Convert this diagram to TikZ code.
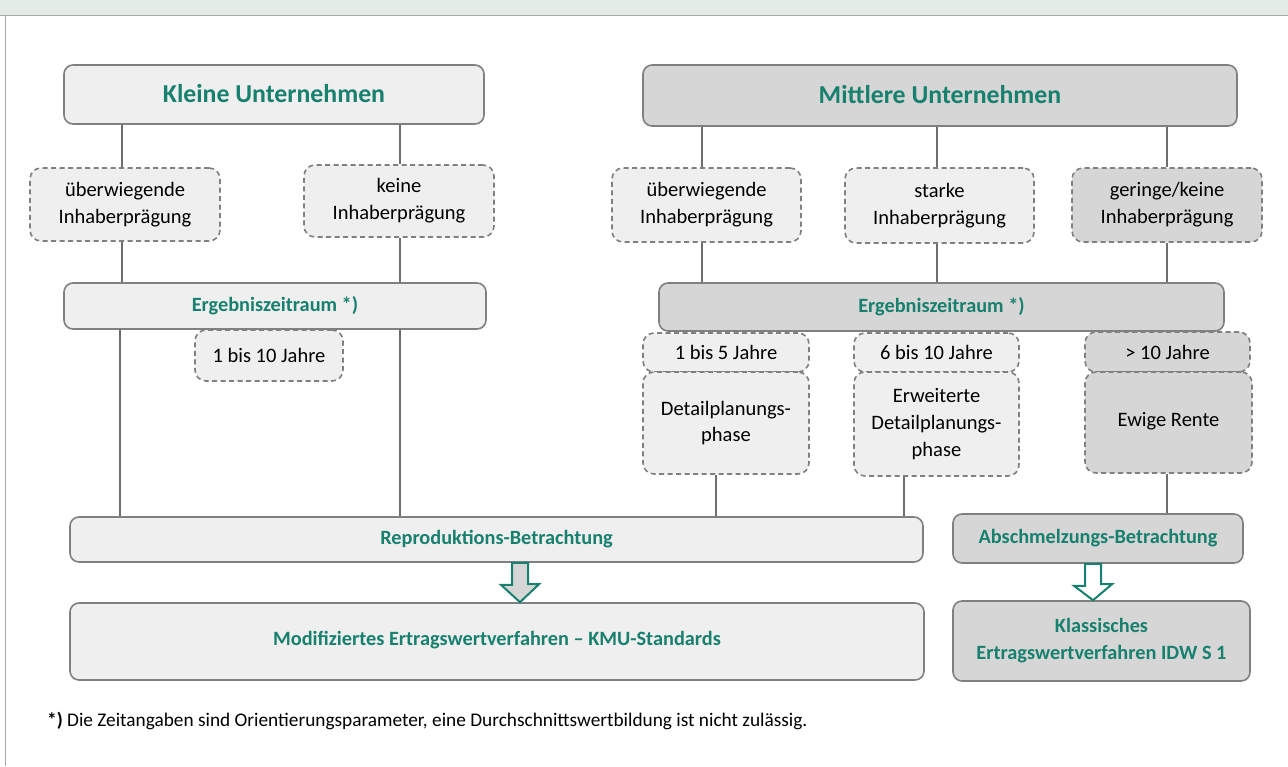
\documentclass[tikz,border=0pt]{standalone}
\usepackage{fontspec}
\setmainfont{Carlito}
\usetikzlibrary{calc}
\definecolor{teal1}{HTML}{17806E}
\definecolor{lfill}{HTML}{EFEFEF}
\definecolor{dfill}{HTML}{D6D6D6}
\definecolor{bgray}{HTML}{808080}
\definecolor{cgray}{HTML}{6E6E6E}
\definecolor{strip}{HTML}{E2EBE6}
\definecolor{frame}{HTML}{A8A8A8}
\begin{document}
\begin{tikzpicture}[x=1pt,y=-1pt,
 base/.style={inner sep=0pt, align=center, font=\fontsize{20.5}{27}\selectfont, text=black},
 sbox/.style={base, draw=bgray, line width=1.6pt, rounded corners=9pt},
 dbox/.style={base, draw=bgray, line width=1.6pt, dash pattern=on 5pt off 3.5pt, rounded corners=11pt},
 light/.style={fill=lfill}, dark/.style={fill=dfill},
 head/.style={text=teal1, font=\fontsize{25.8}{30}\selectfont\bfseries},
 sub/.style={text=teal1, font=\fontsize{20.3}{27}\selectfont\bfseries},
 conn/.style={draw=cgray, line width=2pt},
 barrow/.style={draw=teal1, line width=2pt, line join=miter},
]
\useasboundingbox (0,0) rectangle (1288,766);
\fill[strip] (0,0) rectangle (1288,15);
\draw[frame, line width=1pt] (0,15) -- (1288,15);
\draw[frame, line width=1pt] (5,15) -- (5,766);

% top boxes
\node[sbox, light, head, minimum width=420, minimum height=59] (K) at (274,94.5) {\raisebox{2.5pt}{Kleine Unternehmen}};
\node[sbox, dark, head, minimum width=594, minimum height=61] (M) at (940,95.5) {\raisebox{3pt}{Mittlere Unternehmen}};

% owner characteristics
\node[dbox, light, minimum width=190, minimum height=73] (K1) at (125,204.5) {überwiegende\\Inhaberprägung};
\node[dbox, light, minimum width=190, minimum height=72] (K2) at (399,201) {keine\\Inhaberprägung};
\node[dbox, light, minimum width=189, minimum height=74] (M1) at (706.5,205) {überwiegende\\Inhaberprägung};
\node[dbox, light, minimum width=189, minimum height=75] (M2) at (939.5,205.5) {starke\\Inhaberprägung};
\node[dbox, dark, minimum width=190, minimum height=74] (M3) at (1167,205) {geringe/keine\\Inhaberprägung};

% Ergebniszeitraum
\node[sbox, light, sub, minimum width=422, minimum height=46] (E1) at (275,306) {Ergebniszeitraum *)};
\node[sbox, dark, sub, minimum width=565, minimum height=48] (E2) at (941.5,307) {Ergebniszeitraum *)};

% periods
\node[dbox, light, minimum width=148, minimum height=51] (T1) at (269,355.5) {1 bis 10 Jahre};
\node[dbox, light, minimum width=166, minimum height=39] (P1t) at (726,352.5) {\raisebox{-2pt}{1 bis 5 Jahre}};
\node[dbox, light, minimum width=166, minimum height=102] (P1) at (726,423) {\raisebox{3pt}{\begin{tabular}{@{}c@{}}Detailplanungs-\\[-0.5pt]phase\end{tabular}}};
\node[dbox, light, minimum width=165, minimum height=39] (P2t) at (936.5,352.5) {\raisebox{-2pt}{6 bis 10 Jahre}};
\node[dbox, light, minimum width=165, minimum height=104] (P2) at (936.5,424) {Erweiterte\\Detailplanungs-\\phase};
\node[dbox, dark, minimum width=165, minimum height=40] (P3t) at (1167.5,352) {\raisebox{-1pt}{> 10 Jahre}};
\node[dbox, dark, minimum width=167, minimum height=101] (P3) at (1168.5,422.5) {\raisebox{7pt}{Ewige Rente}};

% Betrachtung
\node[sbox, light, sub, minimum width=853, minimum height=45] (R) at (496.5,539.5) {Reproduktions-Betrachtung};
\node[sbox, dark, sub, minimum width=290, minimum height=49] (A) at (1098,538.5) {Abschmelzungs-Betrachtung};

% Verfahren
\node[sbox, light, sub, minimum width=854, minimum height=77] (MO) at (497,641.5) {\raisebox{7pt}{Modifiziertes Ertragswertverfahren – KMU-Standards}};
\node[sbox, dark, sub, minimum width=297, minimum height=80] (KL) at (1101.5,641) {Klassisches\\Ertragswertverfahren IDW S 1};

% column coordinates
\coordinate (c1) at (122,0);
\coordinate (c2) at (400,0);
\coordinate (c3) at (702,0);
\coordinate (c4) at (937,0);
\coordinate (c5) at (1167,0);
\coordinate (d1) at (120,0);
\coordinate (d3) at (716,0);
\coordinate (d4) at (904,0);

% connectors
\draw[conn] (c1 |- K.south) -- (c1 |- K1.north);
\draw[conn] (c2 |- K.south) -- (c2 |- K2.north);
\draw[conn] (c1 |- K1.south) -- (c1 |- E1.north);
\draw[conn] (c2 |- K2.south) -- (c2 |- E1.north);
\draw[conn] (d1 |- E1.south) -- (d1 |- R.north);
\draw[conn] (c2 |- E1.south) -- (c2 |- R.north);

\draw[conn] (c3 |- M.south) -- (c3 |- M1.north);
\draw[conn] (c4 |- M.south) -- (c4 |- M2.north);
\draw[conn] (c5 |- M.south) -- (c5 |- M3.north);
\draw[conn] (c3 |- M1.south) -- (c3 |- E2.north);
\draw[conn] (c4 |- M2.south) -- (c4 |- E2.north);
\draw[conn] (c5 |- M3.south) -- (c5 |- E2.north);
\draw[conn] (d3 |- P1.south) -- (d3 |- R.north);
\draw[conn] (d4 |- P2.south) -- (d4 |- R.north);
\draw[conn] (c5 |- P3.south) -- (c5 |- A.north);

% block arrows
\coordinate (ar1) at (520,0);
\coordinate (ar2) at (1093,0);
\draw[barrow, fill=dfill] ($(ar1 |- R.south)+(-8,0)$) -- ++(0,22) -- ++(-11,0) -- (ar1 |- MO.north) -- ++(19,-18) -- ++(-11,0) -- ($(ar1 |- R.south)+(8,0)$) -- cycle;
\draw[barrow, fill=white] ($(ar2 |- A.south)+(-8,0)$) -- ++(0,22) -- ++(-11,0) -- (ar2 |- KL.north) -- ++(19,-16) -- ++(-11,0) -- ($(ar2 |- A.south)+(8,0)$) -- cycle;

% footnote
\node[anchor=west, inner sep=0pt, font=\fontsize{19.3}{22}\selectfont] (fn) at (47,721) {\textbf{*)} Die Zeitangaben sind Orientierungsparameter, eine Durchschnittswertbildung ist nicht zulässig.};
\end{tikzpicture}
\end{document}
